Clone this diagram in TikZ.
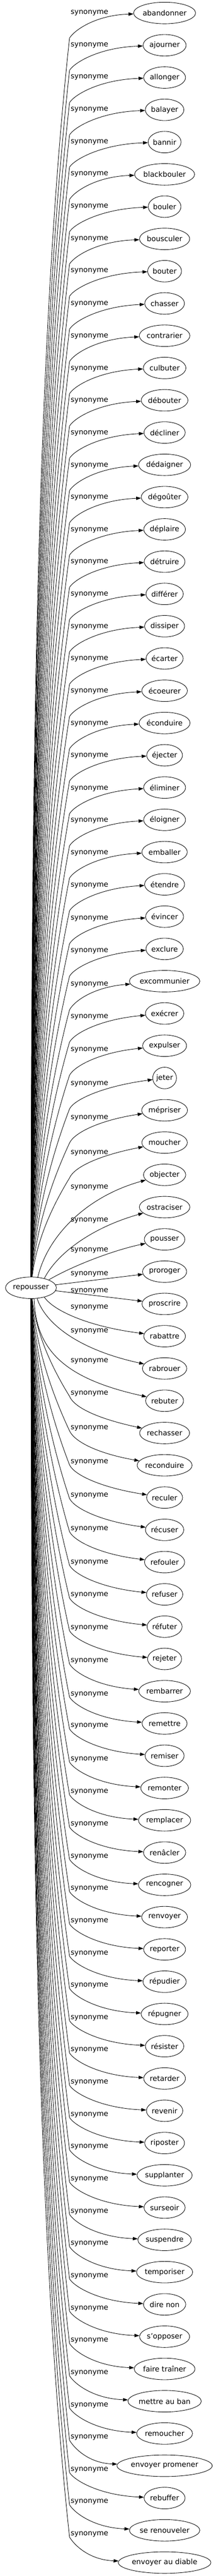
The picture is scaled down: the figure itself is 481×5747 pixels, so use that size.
\documentclass[tikz,border=0pt]{standalone}
\usepackage{fontspec}
\setmainfont{DejaVu Sans}
\usetikzlibrary{arrows.meta,shapes.geometric,calc}
\newlength\synw
\newcommand\nodefont{\fontsize{16.2}{19}\selectfont}
\newcommand\tnode[4]{%
  \settowidth\synw{\nodefont #4}%
  \pgfmathsetmacro\tw{1.23*\synw+31.5}%
  \node[tgt, minimum width=\tw pt] (#1) at (#2,#3) {#4};}
\begin{document}
\begin{tikzpicture}[x=1pt,y=-1pt,
  tgt/.style={ellipse, draw, line width=1pt, inner sep=0pt, minimum height=48pt, font=\nodefont},
  lab/.style={inner sep=0pt, font=\nodefont},
  edge/.style={line width=1pt, -{Triangle[length=11pt,width=7.5pt]}}]
\fill[white] (0,0) rectangle (481,5747);
\useasboundingbox (0,0) rectangle (481,5747);
\tnode{rep}{69}{2873}{repousser}
\foreach \k/\txt/\off in {
0/abandonner/0, 1/ajourner/0, 2/allonger/0, 3/balayer/0, 4/bannir/0,
5/blackbouler/0, 6/bouler/0, 7/bousculer/0, 8/bouter/0, 9/chasser/1.5,
10/contrarier/1.5, 11/culbuter/1.5, 12/débouter/1.5, 13/décliner/1.5, 14/dédaigner/1.5,
15/dégoûter/1.5, 16/déplaire/1.5, 17/détruire/1.5, 18/différer/1.5, 19/dissiper/1.5,
20/écarter/1.5, 21/écoeurer/1.5, 22/éconduire/1.5, 23/éjecter/1.5, 24/éliminer/2.5,
25/éloigner/2, 26/emballer/2, 27/étendre/3, 28/évincer/4.5, 29/exclure/5,
30/excommunier/8, 31/exécrer/8, 32/expulser/10, 33/jeter/13, 34/mépriser/17,
35/moucher/23, 36/objecter/28, 37/ostraciser/30, 38/pousser/25, 39/proroger/6,
40/proscrire/-29, 41/rabattre/-64, 42/rabrouer/-83, 43/rebuter/-88, 44/rechasser/-88,
45/reconduire/-83, 46/reculer/-79, 47/récuser/-76, 48/refouler/-74, 49/refuser/-71,
50/réfuter/-70, 51/rejeter/-69, 52/rembarrer/-67, 53/remettre/-65, 54/remiser/-66,
55/remonter/-64, 56/remplacer/-63, 57/renâcler/-63, 58/rencogner/-63, 59/renvoyer/-63,
60/reporter/-63, 61/répudier/-63, 62/répugner/-63, 63/résister/-63, 64/retarder/-63,
65/revenir/-63, 66/riposter/-63, 67/supplanter/-63, 68/surseoir/-63, 69/suspendre/-63,
70/temporiser/-63, 71/dire non/-63, 72/s'opposer/-63, 73/faire traîner/-63, 74/mettre au ban/-63,
75/remoucher/-63, 76/envoyer promener/-63, 77/rebuffer/-63, 78/se renouveler/-63, 79/envoyer au diable/-63}{
  \pgfmathsetmacro\yt{29+72*\k}
  \pgfmathsetmacro\L{\yt+\off}
  \tnode{n\k}{367}{\yt}{\txt}
  \node[lab] (l\k) at (199.5,\L) {synonyme};
  \ifnum\k<36
    \pgfmathsetmacro\By{\L+56}
    \pgfmathsetmacro\D{2849-\By}
    \pgfmathsetmacro\xs{70+12*\k/35}
    \pgfmathsetmacro\Cay{2849-0.4*\D}
    \pgfmathsetmacro\Cbx{155-(30+0.016*\D)}
    \pgfmathsetmacro\Cby{\By+0.25*\D}
    \pgfmathsetmacro\R{\By-\yt}
    \pgfmathsetmacro\f{max(4,1.05*\R-54)}
    \pgfmathsetmacro\Ccy{\By-0.3*\R}
    \coordinate (b\k) at (155,\By);
    \draw[edge] (rep) .. controls (\xs,\Cay) and (\Cbx,\Cby) .. (b\k)
      .. controls (165,\Ccy) and ($(n\k.west)!0.6!(155,\yt)+(0,\f)$) .. (n\k);
  \else\ifnum\k>43
    \pgfmathsetmacro\By{\L+6}
    \pgfmathsetmacro\D{\By-2897}
    \pgfmathsetmacro\xs{70+12*(79-\k)/35}
    \pgfmathsetmacro\Cay{2897+0.4*\D}
    \pgfmathsetmacro\Cbx{155-(30+0.016*\D)}
    \pgfmathsetmacro\Cby{\By-0.25*\D}
    \pgfmathsetmacro\R{\yt-\By}
    \pgfmathsetmacro\f{max(4,1.05*\R-54)}
    \pgfmathsetmacro\Ccy{\By+0.3*\R}
    \coordinate (b\k) at (155,\By);
    \draw[edge] (rep) .. controls (\xs,\Cay) and (\Cbx,\Cby) .. (b\k)
      .. controls (165,\Ccy) and ($(n\k.west)!0.6!(155,\yt)+(0,-\f)$) .. (n\k);
  \fi\fi
}
\draw[edge] (rep.57) .. controls (105,2760) and (190,2670) .. (n36);
\draw[edge] (rep.35) .. controls (125,2800) and (200,2740) .. (n37);
\draw[edge] (rep.24) .. controls (160,2825) and (250,2790) .. (n38);
\draw[edge] (rep) -- (n39);
\draw[edge] (rep) -- (n40);
\draw[edge] (rep.-35) .. controls (120,2925) and (200,2960) .. (n41);
\draw[edge] (rep.-60) .. controls (100,2950) and (170,3010) .. (n42);
\draw[edge] (rep.-74) .. controls (80,3010) and (140,3075) .. (n43);
\end{tikzpicture}
\end{document}
